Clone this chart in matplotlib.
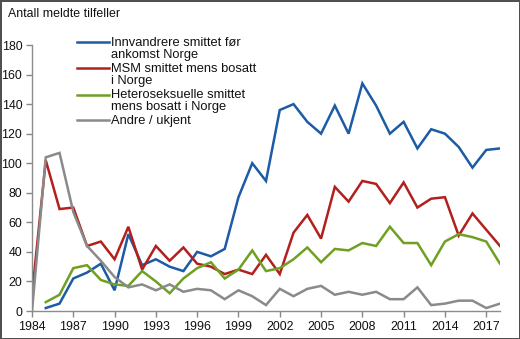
import matplotlib.pyplot as plt
import numpy as np

# Meldte HIV-tilfeller i Norge etter smittemåte, 1984-2018
YEARS = list(range(1984, 2019))

INNVANDRERE = [np.nan, 2, 5, 22, 26, 32, 14, 52, 31, 35, 30, 27, 40, 37, 42, 77, 100, 88,
               136, 140, 128, 120, 139, 120, 154, 139, 120, 128, 110, 123, 120, 111, 97, 109, 110]
MSM = [11, 102, 69, 70, 44, 47, 35, 57, 28, 44, 34, 43, 32, 30, 25, 28, 25, 38,
       25, 53, 65, 49, 84, 74, 88, 86, 73, 87, 70, 76, 77, 51, 66, 55, 44]
HETERO = [np.nan, 6, 11, 29, 31, 21, 18, 17, 27, 20, 12, 22, 29, 33, 22, 28, 41, 27,
          29, 35, 43, 33, 42, 41, 46, 44, 57, 46, 46, 31, 47, 52, 50, 47, 32]
ANDRE = [0, 104, 107, 67, 44, 34, 23, 16, 18, 14, 18, 13, 15, 14, 8, 14, 10, 4,
         15, 10, 15, 17, 11, 13, 11, 13, 8, 8, 16, 4, 5, 7, 7, 2, 5]

LABELS = [
    "Innvandrere smittet før\nankomst Norge",
    "MSM smittet mens bosatt\ni Norge",
    "Heteroseksuelle smittet\nmens bosatt i Norge",
    "Andre / ukjent",
]
COLORS = ["#1C5BA5", "#B2201E", "#6FA022", "#8A8A8A"]

plt.rcParams['font.family'] = ['Liberation Sans', 'DejaVu Sans']
FS = 8.9
LEG_FS = 9.3

fig = plt.figure(figsize=(5.2, 3.39), dpi=100)
fig.patch.set_facecolor("white")
fig.patch.set_edgecolor("#505050")
fig.patch.set_linewidth(2.0)

ax = fig.add_axes([32 / 520, 28 / 339, 468 / 520, 266 / 339])

for values, label, color in zip([INNVANDRERE, MSM, HETERO, ANDRE], LABELS, COLORS):
    ax.plot(YEARS, values, color=color, lw=1.8, label=label, solid_joinstyle="miter")

ax.set_xlim(1984, 2018)
ax.set_ylim(0, 180)
ax.set_xticks(range(1984, 2019, 3))
ax.set_yticks(range(0, 181, 20))
ax.tick_params(axis="both", labelsize=FS, colors="#888888", labelcolor="#111111",
               length=4, width=1)
ax.tick_params(axis="x", pad=3)
ax.tick_params(axis="y", pad=3)

for side in ["top", "right"]:
    ax.spines[side].set_visible(False)
for side in ["left", "bottom"]:
    ax.spines[side].set_color("#8C8C8C")
    ax.spines[side].set_linewidth(1.0)

fig.text(8 / 520, 1 - 14 / 339, "Antall meldte tilfeller", fontsize=FS,
         color="#111111", va="center", ha="left")

leg = ax.legend(loc="upper left", bbox_to_anchor=(77 / 520, 1 - 37 / 339),
                bbox_transform=fig.transFigure, frameon=False, fontsize=LEG_FS,
                handlelength=2.45, handletextpad=0.2, labelspacing=0.15,
                borderpad=0, borderaxespad=0)
for txt in leg.get_texts():
    txt.set_linespacing(1.02)
    txt.set_color("#111111")
# put the key line next to the first line of a two-line label
for handle, label in zip(leg.legend_handles, LABELS):
    handle.set_linewidth(1.8)
    if "\n" in label:
        handle.set_ydata(np.asarray(handle.get_ydata()) + 0.51 * LEG_FS * 1.02)

fig.savefig("out.png", dpi=100, facecolor=fig.get_facecolor(),
            edgecolor=fig.get_edgecolor())
